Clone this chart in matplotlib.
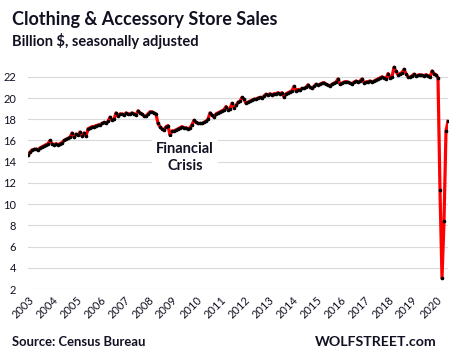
import matplotlib
matplotlib.use("Agg")
import matplotlib.pyplot as plt
import numpy as np

years = [str(y) for y in range(2003, 2021)]

sales_2003 = [14.6, 14.9, 15.1, 15.15, 15.2, 15.1, 15.3, 15.4, 15.5, 15.6, 15.7, 16.0]
sales_2004 = [15.7, 15.6, 15.7, 15.6, 15.7, 15.8, 16.0, 16.1, 16.2, 16.3, 16.7, 16.3]
sales_2005 = [16.6, 16.5, 16.8, 16.4, 16.7, 16.4, 17.1, 17.2, 17.3, 17.3, 17.4, 17.45]
sales_2006 = [17.5, 17.6, 17.7, 17.6, 17.8, 18.2, 17.9, 18.0, 18.6, 18.3, 18.5, 18.5]
sales_2007 = [18.4, 18.6, 18.5, 18.5, 18.6, 18.5, 18.4, 18.8, 18.6, 18.5, 18.3, 18.3]
sales_2008 = [18.5, 18.7, 18.7, 18.6, 18.5, 17.6, 17.3, 17.1, 17.0, 17.3, 17.4, 16.5]
sales_2009 = [16.9, 16.9, 17.0, 17.1, 17.2, 17.3, 17.2, 17.2, 17.1, 17.2, 17.5, 17.9]
sales_2010 = [17.7, 17.6, 17.6, 17.6, 17.7, 17.8, 18.0, 18.6, 18.4, 18.2, 18.5, 18.6]
sales_2011 = [18.7, 18.8, 18.9, 19.2, 18.9, 19.0, 19.5, 19.1, 19.3, 19.6, 19.7, 20.05]
sales_2012 = [19.9, 19.5, 19.6, 19.7, 19.8, 19.9, 19.9, 20.0, 20.05, 20.0, 20.2, 20.35]
sales_2013 = [20.3, 20.4, 20.3, 20.4, 20.4, 20.5, 20.4, 20.5, 20.1, 20.4, 20.5, 20.6]
sales_2014 = [20.7, 21.1, 20.7, 20.8, 20.8, 20.9, 20.9, 21.0, 21.25, 21.0, 20.9, 21.1]
sales_2015 = [21.3, 21.2, 21.3, 21.4, 21.45, 21.3, 21.2, 21.15, 21.3, 21.4, 21.5, 21.8]
sales_2016 = [21.3, 21.4, 21.5, 21.55, 21.5, 21.4, 21.35, 21.5, 21.6, 21.5, 21.6, 21.8]
sales_2017 = [21.45, 21.5, 21.55, 21.6, 21.5, 21.6, 21.7, 21.8, 21.9, 22.0, 21.9, 21.8]
sales_2018 = [22.3, 21.9, 22.0, 22.9, 22.5, 22.2, 22.3, 22.4, 22.7, 22.3, 22.0, 21.95]
sales_2019 = [22.1, 22.25, 22.1, 22.15, 22.2, 22.15, 22.1, 22.2, 22.1, 21.95, 22.55, 22.3]
sales_2020 = [22.2, 21.9, 11.3, 3.0, 8.4, 16.9, 17.8]

sales = (sales_2003 + sales_2004 + sales_2005 + sales_2006 + sales_2007 + sales_2008 +
         sales_2009 + sales_2010 + sales_2011 + sales_2012 + sales_2013 + sales_2014 +
         sales_2015 + sales_2016 + sales_2017 + sales_2018 + sales_2019 + sales_2020)
months = np.arange(len(sales))
yticks = list(range(2, 23, 2))

W, H = 457, 357
fig = plt.figure(figsize=(W / 100, H / 100), dpi=100)
ax = fig.add_axes([28 / W, (H - 289) / H, (448 - 28) / W, (289 - 63) / H])

font = "Lato"
dark = "#111122"

ax.plot(months, sales, color="#ff0000", lw=2.3, zorder=3, solid_joinstyle="round")
ax.plot(months, sales, ls="none", marker="o", ms=1.6, color="black", zorder=4)

ax.set_xlim(0, len(sales) - 1)
ax.set_ylim(2, 23.3)
ax.set_yticks(yticks)
ax.set_yticklabels([str(v) for v in yticks], fontname=font, fontsize=8, color=dark)
ax.set_xticks(np.arange(0, len(sales), 12))
ax.set_xticklabels(years, fontname=font, fontsize=8, color=dark, rotation=45,
                   ha="right", va="top", rotation_mode="anchor")
ax.tick_params(axis="both", length=0)
ax.tick_params(axis="y", pad=8.5)
ax.tick_params(axis="x", pad=4)
ax.grid(axis="y", color="#d9d9d9", lw=0.8, zorder=0)
ax.set_axisbelow(True)
for s in ax.spines.values():
    s.set_visible(False)

ax.text(78.5, 14.4, "Financial\nCrisis", fontname=font, fontweight="bold", fontsize=10.5,
        color=dark, ha="center", va="center", linespacing=1.35, zorder=5,
        bbox=dict(facecolor="white", edgecolor="none", pad=3))

fig.text(12 / W, 1 - 25 / H, "Clothing & Accessory Store Sales", fontname=font,
         fontweight="bold", fontsize=13, color=dark, ha="left", va="baseline")
fig.text(12 / W, 1 - 46 / H, "Billion $, seasonally adjusted", fontname=font,
         fontweight="bold", fontsize=10.5, color=dark, ha="left", va="baseline")
fig.text(12 / W, 1 - 346 / H, "Source: Census Bureau", fontname=font,
         fontweight="bold", fontsize=9.4, color=dark, ha="left", va="baseline")
fig.text(437 / W, 1 - 346 / H, "WOLFSTREET.com", fontname=font,
         fontweight="bold", fontsize=10.2, color=dark, ha="right", va="baseline")

fig.savefig("out.png", dpi=100)
